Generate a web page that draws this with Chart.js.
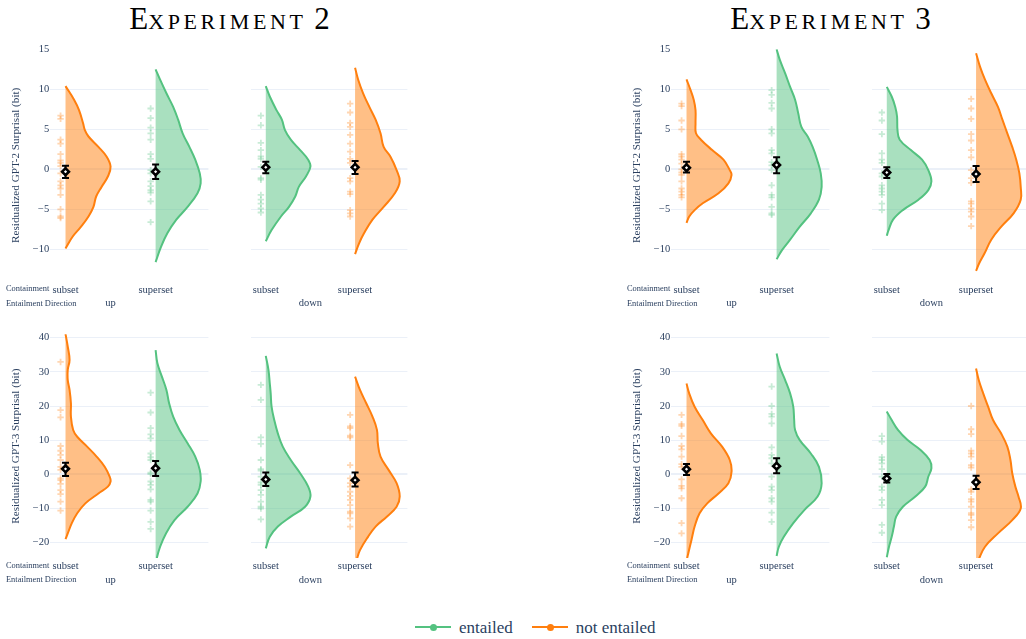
<!DOCTYPE html>
<html>
<head>
<meta charset="utf-8">
<title>Residualized surprisal by containment and entailment direction</title>
<script src="https://cdn.jsdelivr.net/npm/chart.js@4.4.1/dist/chart.umd.min.js"></script>
<style>
  html, body { margin: 0; padding: 0; background: #fff; }
  body { width: 1026px; height: 639px; position: relative; overflow: hidden;
         font-family: "Liberation Serif", "Times New Roman", serif; }
  canvas { position: absolute; }
  .title { position: absolute; top: 2px; width: 300px; text-align: center; font-size: 31px;
           line-height: 34px; color: #000; white-space: nowrap; }
  .title .sc { font-variant-caps: small-caps; letter-spacing: 3.6px; }
  .key-line { position: absolute; height: 2px; top: 626px; }
  .key-dot { position: absolute; width: 7px; height: 7px; border-radius: 50%; top: 623.5px; }
  .key-text { position: absolute; top: 617.5px; font-size: 17px; line-height: 20px; color: #2a3f5f; white-space: nowrap; }
</style>
</head>
<body>
<div class="title" style="left:79.5px">E<span class="sc">xperiment</span> 2</div>
<div class="title" style="left:680.5px">E<span class="sc">xperiment</span> 3</div>

<div id="legend"></div>

<script>
// ---- categories -------------------------------------------------------
const containment = ['subset', 'superset'];
const directions = ['up', 'down'];
// violin order inside each panel: subset/up, superset/up, subset/down, superset/down
const entailment = ['not entailed', 'entailed', 'entailed', 'not entailed'];
const seriesNames = ['entailed', 'not entailed'];

const gpt2Ticks = [-10, -5, 0, 5, 10, 15];
const gpt3Ticks = [-20, -10, 0, 10, 20, 30, 40];

// ---- Experiment 2, GPT-2 ------------------------------------------------
// violin outlines: [surprisal, relative density]
const exp2Gpt2Violins = [
  [[10.4,0],[8.7,0.19],[7.4,0.3],[5.75,0.39],[4.9,0.43],[4.1,0.51],[2.8,0.73],[1.6,0.91],[0.33,1],[-0.9,0.94],[-2.2,0.8],[-3.4,0.68],[-4.7,0.62],[-5.9,0.51],[-7.2,0.34],[-8.4,0.16],[-9.9,0]],
  [[12.5,0],[11.2,0.1],[9.5,0.24],[7.8,0.39],[6.2,0.5],[4.5,0.6],[2.8,0.75],[1.2,0.88],[-0.5,0.98],[-1.75,1],[-3,0.93],[-4.7,0.71],[-6.3,0.46],[-8,0.26],[-9.7,0.12],[-11.6,0]],
  [[10.4,0],[9.1,0.09],[7.4,0.24],[6.2,0.36],[4.9,0.43],[3.7,0.56],[2.4,0.77],[1.2,0.95],[0.33,1],[-0.9,0.9],[-2.2,0.74],[-3.4,0.66],[-4.7,0.52],[-5.9,0.34],[-7.6,0.13],[-9,0]],
  [[12.7,0],[11.2,0.07],[9.5,0.18],[7.8,0.32],[6.2,0.46],[4.5,0.57],[2.8,0.64],[1.6,0.79],[-0.1,0.93],[-1.5,1],[-3,0.89],[-4.7,0.64],[-6.3,0.39],[-8,0.2],[-9.25,0.09],[-10.6,0]]
];
const exp2Gpt2Points = [
  [6.7, 6.3, 3.7, 3.2, 1.9, 1.1, 0.8, 0.4, -0.5, -1.5, -2.0, -2.4, -3.2, -5.0, -5.9, -6.1],
  [7.6, 6.4, 5.2, 4.5, 3.7, 1.9, 1.3, -0.1, -0.5, -1.5, -2.1, -2.6, -2.9, -4.0, -6.6],
  [6.7, 5.5, 3.3, 2.4, 1.6, 1.3, 0.3, -1.1, -1.3, -3.2, -3.8, -4.3, -4.9, -5.4],
  [8.2, 7.1, 5.8, 5.3, 4.3, 3.2, 2.2, 1.3, 0.8, -1.1, -1.5, -2.8, -3.1, -5.1, -5.5, -5.9]
];
const exp2Gpt2Means = [-0.3, -0.3, 0.25, 0.25];
const exp2Gpt2Lower = [-1.1, -1.2, -0.5, -0.6];
const exp2Gpt2Upper = [0.45, 0.6, 0.95, 1.05];

// ---- Experiment 3, GPT-2 ------------------------------------------------
const exp3Gpt2Violins = [
  [[11.25,0],[9.9,0.09],[8.7,0.16],[7.4,0.2],[5.75,0.2],[4.5,0.21],[3.7,0.32],[2.4,0.57],[1.2,0.82],[-0.1,0.96],[-0.7,1],[-1.75,0.93],[-3,0.71],[-4.25,0.36],[-5.1,0.18],[-5.9,0.06],[-6.7,0]],
  [[15,0],[13.7,0.07],[12,0.19],[10.3,0.3],[8.7,0.41],[7,0.48],[5.3,0.55],[4.1,0.69],[2.8,0.8],[1.2,0.9],[-0.5,0.98],[-2.2,1],[-3.8,0.94],[-5.5,0.76],[-7.2,0.51],[-8.8,0.3],[-10.1,0.12],[-11.25,0]],
  [[10.3,0],[9.1,0.11],[7.8,0.19],[6.6,0.23],[4.9,0.24],[3.7,0.29],[2.4,0.54],[1.2,0.79],[-0.1,0.93],[-1.5,1],[-2.6,0.93],[-3.8,0.71],[-5.1,0.36],[-6.3,0.14],[-7.6,0.04],[-8.3,0]],
  [[14.5,0],[12.8,0.09],[11.2,0.2],[9.5,0.34],[7.8,0.49],[6.2,0.59],[4.5,0.7],[2.8,0.81],[1.2,0.9],[-0.5,0.97],[-2.2,1],[-3.8,1],[-5.5,0.84],[-7.2,0.56],[-8.8,0.34],[-10.5,0.19],[-11.75,0.07],[-12.7,0]]
];
const exp3Gpt2Points = [
  [8.2, 7.9, 6.1, 5.0, 1.9, 1.6, 1.2, 0.7, 0.0, -0.4, -0.7, -1.5, -2.4, -2.8, -3.2, -3.5],
  [9.9, 9.3, 8.3, 7.6, 5.0, 4.5, 2.4, 2.0, 0.9, 0.5, -0.1, -2.0, -3.2, -3.5, -4.7, -5.5, -5.7],
  [7.1, 6.1, 4.4, 2.0, 1.2, 0.8, -0.5, -0.9, -2.0, -2.4, -2.8, -3.2, -4.3, -5.1],
  [8.8, 7.6, 6.3, 4.4, 3.6, 2.4, 1.5, -0.1, -1.1, -1.7, -4.0, -4.3, -4.9, -5.3, -5.9, -7.1]
];
const exp3Gpt2Means = [0.2, 0.55, -0.4, -0.6];
const exp3Gpt2Lower = [-0.4, -0.5, -1.1, -1.6];
const exp3Gpt2Upper = [0.95, 1.5, 0.25, 0.4];

// ---- Experiment 2, GPT-3 ------------------------------------------------
const exp2Gpt3Violins = [
  [[41.1,0],[37.4,0.05],[33.5,0.09],[30.6,0.05],[27.6,0.05],[24.7,0.09],[20.8,0.12],[16.9,0.12],[13,0.17],[11,0.26],[8.1,0.48],[5.2,0.69],[2.2,0.87],[-0.7,0.98],[-2.1,1],[-3.6,0.94],[-5.6,0.73],[-8.5,0.44],[-11.4,0.26],[-14.3,0.14],[-17.3,0.05],[-19,0]],
  [[36.4,0],[32.5,0.04],[28.6,0.14],[24.7,0.24],[20.8,0.3],[16.9,0.39],[13,0.53],[9.1,0.71],[5.2,0.88],[1.3,0.98],[-2.1,1],[-5.6,0.93],[-9.5,0.71],[-13.4,0.42],[-17.3,0.23],[-21.2,0.1],[-24.9,0.02],[-27,0]],
  [[34.7,0],[30.6,0.06],[26.6,0.09],[23.7,0.11],[19.8,0.13],[15.9,0.19],[12,0.27],[8.1,0.38],[4.2,0.56],[0.3,0.77],[-3.6,0.95],[-6.5,1],[-9.5,0.88],[-12.4,0.56],[-15.3,0.27],[-18.3,0.09],[-21.7,0]],
  [[28.6,0],[24.7,0.11],[20.8,0.25],[16.9,0.39],[13,0.49],[9.1,0.51],[5.2,0.57],[1.3,0.75],[-2.6,0.93],[-6.5,1],[-9.5,0.93],[-12.4,0.71],[-15.3,0.46],[-18.3,0.29],[-22.2,0.11],[-24.9,0.04],[-27,0]]
];
const exp2Gpt3Points = [
  [32.9, 18.8, 16.7, 8.3, 6.9, 5.7, 4.2, 2.2, 1.3, -1.2, -1.7, -2.8, -4.6, -5.8, -8.0, -10.6],
  [23.9, 18.1, 13.5, 11.7, 10.5, 6.1, 5.0, 4.2, 0.5, 0.1, -2.1, -3.1, -4.4, -7.5, -8.0, -10.6, -13.9, -16.0],
  [26.2, 21.8, 10.8, 8.9, 4.2, 1.5, 1.1, -0.7, -2.4, -3.1, -4.6, -6.0, -8.0, -9.5, -10.0, -13.2],
  [17.4, 14.0, 13.5, 11.3, 10.8, 2.7, -1.2, -2.6, -3.6, -5.1, -6.3, -7.5, -9.0, -10.9, -11.4, -12.9, -15.3]
];
const exp2Gpt3Means = [1.6, 1.8, -1.5, -1.7];
const exp2Gpt3Lower = [-0.5, -0.5, -3.4, -3.6];
const exp2Gpt3Upper = [3.4, 3.9, 0.5, 0.5];

// ---- Experiment 3, GPT-3 ------------------------------------------------
const exp3Gpt3Violins = [
  [[26.6,0],[23.7,0.06],[19.8,0.18],[15.9,0.36],[12,0.54],[8.1,0.79],[4.2,0.96],[0.8,1],[-2.6,0.93],[-5.6,0.71],[-8.5,0.46],[-11.4,0.29],[-15.3,0.18],[-19.2,0.11],[-23.1,0.04],[-24.9,0.01],[-26,0]],
  [[35.4,0],[31.5,0.07],[27.6,0.19],[23.7,0.3],[19.8,0.37],[15.9,0.39],[13,0.41],[10.1,0.51],[6.1,0.76],[2.2,0.94],[-2.6,1],[-6.5,0.91],[-10.4,0.62],[-14.3,0.37],[-18.3,0.16],[-21.2,0.05],[-23.9,0]],
  [[18.4,0],[15.9,0.11],[13,0.25],[10.1,0.46],[7.2,0.75],[4.2,0.96],[1.8,1],[-0.7,0.93],[-3.6,0.86],[-6.5,0.64],[-9.5,0.36],[-12.4,0.21],[-15.3,0.16],[-18.3,0.11],[-21.2,0.05],[-24.3,0]],
  [[31,0],[27.6,0.06],[23.7,0.16],[19.8,0.27],[15.9,0.38],[12,0.56],[8.1,0.7],[4.2,0.77],[0.3,0.81],[-3.6,0.88],[-6.5,0.95],[-10,1],[-13.4,0.81],[-17.3,0.49],[-21.2,0.2],[-24.9,0.06],[-27,0]]
];
const exp3Gpt3Points = [
  [17.4, 14.7, 14.2, 11.2, 8.3, 7.3, 5.2, 3.0, 2.2, -1.5, -3.4, -4.1, -7.0, -14.3, -17.3],
  [25.7, 20.0, 17.7, 16.9, 14.9, 7.9, 5.7, 4.7, 3.2, -0.7, -3.6, -4.6, -7.0, -8.0, -11.2, -13.9],
  [11.2, 9.6, 5.0, 4.2, 3.2, 1.5, -0.7, -3.6, -4.6, -7.5, -9.0, -14.8, -17.1],
  [20.0, 13.2, 11.8, 6.9, 6.1, 5.2, 2.7, 2.0, -4.4, -5.1, -7.3, -8.0, -9.5, -11.4, -11.9, -13.4, -15.5]
];
const exp3Gpt3Means = [1.5, 2.4, -1.2, -2.3];
const exp3Gpt3Lower = [-0.2, 0.3, -2.4, -4.3];
const exp3Gpt3Upper = [3.0, 4.7, 0.1, -0.4];

// ---- styling ------------------------------------------------------------
const FONT = '"Liberation Serif", "Times New Roman", serif';
const TEXT = '#2a3f5f';
const GRID = '#ebf0f8';
const HUE = {
  'entailed':     { line: 'rgb(84,194,128)', fill: 'rgba(84,194,128,0.5)', pts: 'rgba(84,194,128,0.32)' },
  'not entailed': { line: 'rgb(255,127,14)', fill: 'rgba(255,127,14,0.5)', pts: 'rgba(255,127,14,0.32)' }
};
const HALF_WIDTH = 0.5;      // widest point of every half violin, in category units
const POINT_SHIFT = -0.055;  // raw observations sit just left of the violin base
const X_MIN = -0.17, X_MAX = 1.586;

function fmtTick(v) { return v < 0 ? '\u2212' + Math.abs(v) : String(v); }

// fills each half violin between its outline and its base, and draws error bars under the means
const halfViolinPlugin = {
  id: 'halfViolin',
  beforeDatasetDraw(chart, args) {
    const ds = chart.data.datasets[args.index];
    const ctx = chart.ctx, area = chart.chartArea;
    const xs = chart.scales.x, ys = chart.scales.y;
    const meta = args.meta;
    if (ds.violinFill) {
      const line = meta.dataset, pts = meta.data;
      if (!pts.length) return;
      const bx = xs.getPixelForValue(ds.violinBase);
      ctx.save();
      ctx.beginPath();
      ctx.rect(area.left, area.top, area.right - area.left, area.bottom - area.top);
      ctx.clip();
      ctx.beginPath();
      if (line && typeof line.path === 'function') {
        if (typeof line.updateControlPoints === 'function') line.updateControlPoints(area, 'x');
        line.path(ctx);
      } else {
        pts.forEach((p, i) => i ? ctx.lineTo(p.x, p.y) : ctx.moveTo(p.x, p.y));
      }
      ctx.lineTo(bx, pts[pts.length - 1].y);
      ctx.lineTo(bx, pts[0].y);
      ctx.closePath();
      ctx.fillStyle = ds.violinFill;
      ctx.fill();
      ctx.restore();
    }
    if (ds.errLow) {
      ctx.save();
      ctx.strokeStyle = '#000';
      ctx.lineWidth = 2;
      meta.data.forEach((p, i) => {
        const yl = ys.getPixelForValue(ds.errLow[i]);
        const yh = ys.getPixelForValue(ds.errHigh[i]);
        ctx.beginPath();
        ctx.moveTo(p.x, yl); ctx.lineTo(p.x, yh);
        ctx.moveTo(p.x - 3.5, yl); ctx.lineTo(p.x + 3.5, yl);
        ctx.moveTo(p.x - 3.5, yh); ctx.lineTo(p.x + 3.5, yh);
        ctx.stroke();
      });
      ctx.restore();
    }
  }
};

// two-level category axis: containment under each violin, direction under each group
function groupLabelPlugin(dirIndex, withLevelNames) {
  return {
    id: 'groupLabels',
    afterDraw(chart) {
      const ctx = chart.ctx, area = chart.chartArea, xs = chart.scales.x;
      ctx.save();
      ctx.fillStyle = TEXT;
      ctx.textBaseline = 'middle';
      ctx.font = '10.5px ' + FONT;
      ctx.textAlign = 'center';
      xs.ticks.forEach(t => {
        ctx.fillText(containment[t.value], xs.getPixelForValue(t.value), area.bottom + 8.6);
      });
      ctx.fillText(directions[dirIndex], xs.getPixelForValue(0.5), area.bottom + 22.3);
      if (withLevelNames) {
        ctx.font = '8.4px ' + FONT;
        ctx.textAlign = 'left';
        ctx.fillText('Containment', 6, area.bottom + 7.6);
        ctx.fillText('Entailment Direction', 6, area.bottom + 22.3);
      }
      ctx.restore();
    }
  };
}

function addCanvas(left, top, width, height) {
  const cv = document.createElement('canvas');
  cv.width = width; cv.height = height;
  cv.style.left = left + 'px'; cv.style.top = top + 'px';
  cv.style.width = width + 'px'; cv.style.height = height + 'px';
  document.body.appendChild(cv);
  return cv;
}

function subplot(panel, dirIndex, withAxis) {
  const width = withAxis ? 215 : 170;
  const left = panel.colX + (withAxis ? 0 : 244);
  const cv = addCanvas(left, panel.rowTop, width, panel.height);
  const datasets = [];
  for (let k = 0; k < 2; k++) {
    const vi = dirIndex * 2 + k;
    const hue = HUE[entailment[vi]];
    datasets.push({
      type: 'line',
      label: entailment[vi],
      data: panel.violins[vi].map(([y, d]) => ({ x: k + d * HALF_WIDTH, y })),
      borderColor: hue.line, borderWidth: 2, pointRadius: 0, tension: 0.4, fill: false,
      violinFill: hue.fill, violinBase: k, order: 3
    });
    datasets.push({
      type: 'scatter',
      label: entailment[vi] + ' observations',
      data: panel.points[vi].map(y => ({ x: k + POINT_SHIFT, y })),
      pointStyle: 'cross', pointRadius: 3.2, borderWidth: 1.8,
      borderColor: hue.pts, backgroundColor: hue.pts, order: 2
    });
  }
  const idx = [dirIndex * 2, dirIndex * 2 + 1];
  datasets.push({
    type: 'scatter',
    label: 'mean',
    data: idx.map((vi, k) => ({ x: k, y: panel.means[vi] })),
    errLow: idx.map(vi => panel.lower[vi]),
    errHigh: idx.map(vi => panel.upper[vi]),
    pointStyle: 'rectRot', pointRadius: 3.4, borderWidth: 2.6,
    borderColor: '#000', backgroundColor: '#fff', order: 1
  });

  return new Chart(cv, {
    data: { datasets },
    plugins: [halfViolinPlugin, groupLabelPlugin(dirIndex, withAxis)],
    options: {
      responsive: false, animation: false, devicePixelRatio: 1,
      layout: { padding: withAxis ? { left: 0, right: 2, top: panel.padTop, bottom: 0 }
                                  : { left: 4.3, right: 2.9, top: panel.padTop, bottom: 0 } },
      plugins: { legend: { display: false }, tooltip: { enabled: false } },
      scales: {
        x: {
          type: 'linear', min: X_MIN, max: X_MAX,
          grid: { display: false }, border: { display: false },
          afterBuildTicks: s => { s.ticks = containment.map((c, i) => ({ value: i })); },
          ticks: { display: false },
          afterFit: s => { s.height = panel.axisHeight; }
        },
        y: {
          type: 'linear', min: panel.yMin, max: panel.yMax,
          border: { display: false },
          grid: {
            drawTicks: false,
            color: c => (c.tick && c.tick.value === panel.hiddenGrid) ? 'rgba(0,0,0,0)' : GRID,
            lineWidth: c => (c.tick && c.tick.value === 0) ? 2 : 1
          },
          afterBuildTicks: s => { s.ticks = panel.ticks.map(v => ({ value: v })); },
          ticks: { display: withAxis, callback: v => fmtTick(v), font: { family: FONT, size: 10.5 },
                   color: TEXT, padding: 1 },
          title: { display: withAxis, text: panel.yTitle, font: { family: FONT, size: 11.2 },
                   color: TEXT, padding: { top: 9.3, bottom: 0 } },
          afterFit: s => { s.width = withAxis ? 50.2 : 0; }
        }
      }
    }
  });
}

const panels = [
  { colX: 0,   rowTop: 38,  height: 282, padTop: 11.3, axisHeight: 38.7, yMin: -14,   yMax: 15, hiddenGrid: 15,
    ticks: gpt2Ticks, yTitle: 'Residualized GPT-2 Surprisal (bit)',
    violins: exp2Gpt2Violins, points: exp2Gpt2Points, means: exp2Gpt2Means, lower: exp2Gpt2Lower, upper: exp2Gpt2Upper },
  { colX: 621, rowTop: 38,  height: 282, padTop: 11.3, axisHeight: 38.7, yMin: -14,   yMax: 15, hiddenGrid: 15,
    ticks: gpt2Ticks, yTitle: 'Residualized GPT-2 Surprisal (bit)',
    violins: exp3Gpt2Violins, points: exp3Gpt2Points, means: exp3Gpt2Means, lower: exp3Gpt2Lower, upper: exp3Gpt2Upper },
  { colX: 0,   rowTop: 322, height: 280, padTop: 12.3, axisHeight: 44,   yMin: -24.5, yMax: 41, hiddenGrid: null,
    ticks: gpt3Ticks, yTitle: 'Residualized GPT-3 Surprisal (bit)',
    violins: exp2Gpt3Violins, points: exp2Gpt3Points, means: exp2Gpt3Means, lower: exp2Gpt3Lower, upper: exp2Gpt3Upper },
  { colX: 621, rowTop: 322, height: 280, padTop: 12.3, axisHeight: 44,   yMin: -24.5, yMax: 41, hiddenGrid: null,
    ticks: gpt3Ticks, yTitle: 'Residualized GPT-3 Surprisal (bit)',
    violins: exp3Gpt3Violins, points: exp3Gpt3Points, means: exp3Gpt3Means, lower: exp3Gpt3Lower, upper: exp3Gpt3Upper }
];

panels.forEach(p => {
  subplot(p, 0, true);
  subplot(p, 1, false);
});

// shared legend below the panels
const legendLayout = [
  { line: 415, dot: 429.5, text: 459 },
  { line: 532, dot: 546.5, text: 575.7 }
];
const legendBox = document.getElementById('legend');
seriesNames.forEach((name, i) => {
  const pos = legendLayout[i], col = HUE[name].line;
  legendBox.insertAdjacentHTML('beforeend',
    '<div class="key-line" style="left:' + pos.line + 'px;width:36px;background:' + col + '"></div>' +
    '<div class="key-dot" style="left:' + pos.dot + 'px;background:' + col + '"></div>' +
    '<div class="key-text" style="left:' + pos.text + 'px">' + name + '</div>');
});
</script>
</body>
</html>
